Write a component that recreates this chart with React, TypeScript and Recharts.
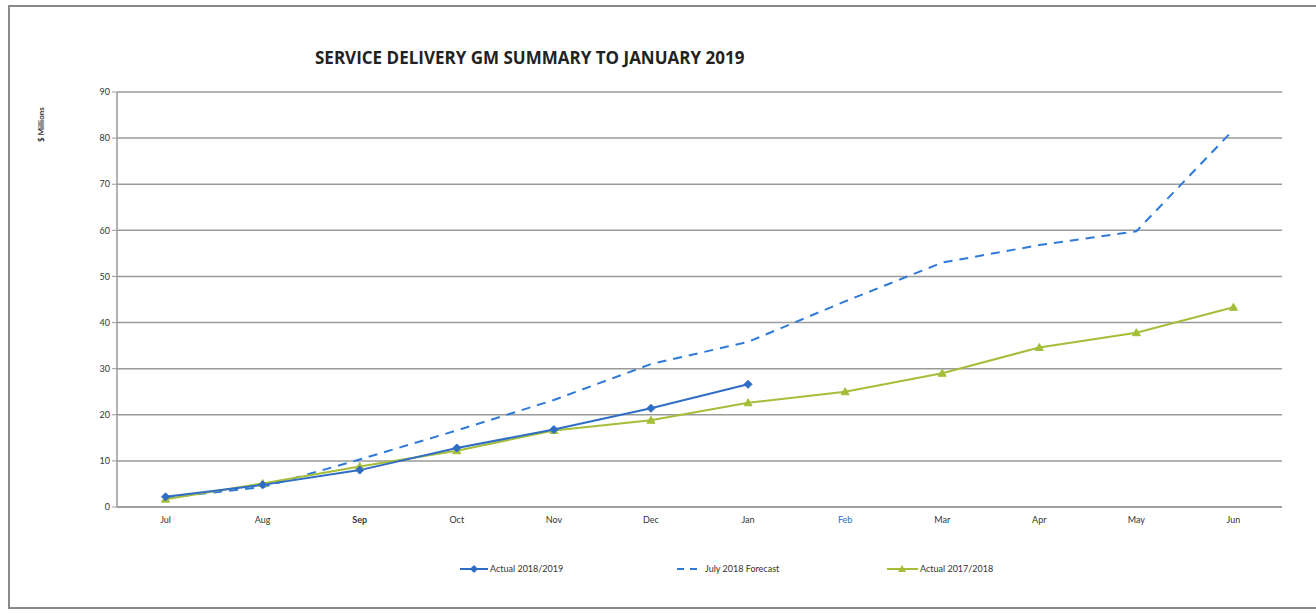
import React from 'react';
import { LineChart, Line, XAxis, YAxis, CartesianGrid, Legend } from 'recharts';

const months = ['Jul', 'Aug', 'Sep', 'Oct', 'Nov', 'Dec', 'Jan', 'Feb', 'Mar', 'Apr', 'May', 'Jun'];
const actual1819 = [2.2, 4.8, 8.0, 12.8, 16.8, 21.4, 26.6, null, null, null, null, null];
const forecast = [2.0, 4.3, 10.3, 16.6, 23.2, 31.0, 35.8, 44.6, 53.0, 56.8, 59.8, 81.8];
const actual1718 = [1.7, 5.1, 8.8, 12.2, 16.6, 18.8, 22.6, 25.0, 29.0, 34.6, 37.8, 43.3];
const yTicks = [0, 10, 20, 30, 40, 50, 60, 70, 80, 90];

const data = months.map((m, i) => ({
  month: m,
  a1819: actual1819[i],
  fc: forecast[i],
  a1718: actual1718[i],
}));

const BLUE = '#2f6cc6';
const DASH = '#2f7ad8';
const GREEN = '#a4be3a';
const FONT = 'Lato, "Open Sans", sans-serif';

const MonthTick = (props: any) => {
  const { x, y, payload } = props;
  const v = payload.value;
  return (
    <text x={x} y={y + 8} textAnchor="middle" fontSize={9} fontFamily={FONT}
      fill={v === 'Feb' ? '#2a6fd0' : '#333'} fontWeight={v === 'Sep' ? 'bold' : 'normal'}>
      {v}
    </text>
  );
};

const Diamond = (props: any) => {
  const { cx, cy } = props;
  if (cx == null || cy == null) return null;
  return <path d={`M${cx},${cy - 4}L${cx + 4},${cy}L${cx},${cy + 4}L${cx - 4},${cy}Z`} fill={BLUE} stroke={BLUE} />;
};

const Tri = (props: any) => {
  const { cx, cy } = props;
  if (cx == null || cy == null) return null;
  return <path d={`M${cx},${cy - 4}L${cx + 4},${cy + 3}L${cx - 4},${cy + 3}Z`} fill={GREEN} stroke={GREEN} />;
};

const LegendContent = () => (
  <div style={{ display: 'flex', fontFamily: FONT, fontSize: 9, color: '#333' }}>
    <div style={{ width: 217, display: 'flex', alignItems: 'center' }}>
      <svg width={30} height={10}>
        <line x1={0} y1={5} x2={28} y2={5} stroke={BLUE} strokeWidth={2} />
        <path d="M14,1L18,5L14,9L10,5Z" fill={BLUE} />
      </svg>
      <span>Actual 2018/2019</span>
    </div>
    <div style={{ width: 210, display: 'flex', alignItems: 'center' }}>
      <svg width={28} height={10}>
        <line x1={0} y1={5} x2={24} y2={5} stroke={DASH} strokeWidth={2} strokeDasharray="7 6" />
      </svg>
      <span>July 2018 Forecast</span>
    </div>
    <div style={{ width: 140, display: 'flex', alignItems: 'center' }}>
      <svg width={33} height={10}>
        <line x1={0} y1={5} x2={31} y2={5} stroke={GREEN} strokeWidth={2} />
        <path d="M15,1L19,8L11,8Z" fill={GREEN} />
      </svg>
      <span>Actual 2017/2018</span>
    </div>
  </div>
);

export default function App() {
  return (
    <div style={{ position: 'fixed', left: 0, top: 0, width: 1316, height: 613, background: '#fff' }}>
      <div style={{ position: 'absolute', left: 8, top: 5, width: 1320, height: 600, border: '2px solid #8a8a8a' }} />
      <div style={{ position: 'absolute', left: 315, top: 46, fontFamily: '"Open Sans", sans-serif', fontWeight: 'bold', fontSize: 17, color: '#222', whiteSpace: 'nowrap' }}>
        SERVICE DELIVERY GM SUMMARY TO JANUARY 2019
      </div>
      <div style={{ position: 'absolute', left: 36, top: 142, transform: 'rotate(-90deg)', transformOrigin: 'left top', fontFamily: FONT, fontWeight: 'bold', fontSize: 8, color: '#333', whiteSpace: 'nowrap' }}>
        $ Millions
      </div>
      <LineChart width={1316} height={613} data={data} margin={{ top: 92, right: 34, bottom: 65, left: 87 }}
        style={{ position: 'absolute', left: 0, top: 0 }}>
        <CartesianGrid vertical={false} stroke="#9a9a9a" strokeWidth={1.5} />
        <XAxis dataKey="month" scale="band" tick={<MonthTick />} tickLine={false}
          axisLine={{ stroke: '#9a9a9a', strokeWidth: 1.5 }} interval={0} height={30} />
        <YAxis domain={[0, 90]} ticks={yTicks} width={30} tickSize={5}
          tick={{ fontSize: 9, fill: '#333', fontFamily: FONT }} tickLine={{ stroke: '#9a9a9a' }}
          axisLine={{ stroke: '#9a9a9a', strokeWidth: 1.5 }} />
        <Legend content={<LegendContent />} wrapperStyle={{ position: 'absolute', left: 460, top: 563, width: 600 }} />
        <Line dataKey="fc" stroke={DASH} strokeWidth={2} strokeDasharray="9 7" dot={false}
          type="linear" isAnimationActive={false} />
        <Line dataKey="a1718" stroke={GREEN} strokeWidth={2} dot={<Tri />}
          type="linear" isAnimationActive={false} />
        <Line dataKey="a1819" stroke={BLUE} strokeWidth={2} dot={<Diamond />}
          type="linear" isAnimationActive={false} connectNulls={false} />
      </LineChart>
    </div>
  );
}
